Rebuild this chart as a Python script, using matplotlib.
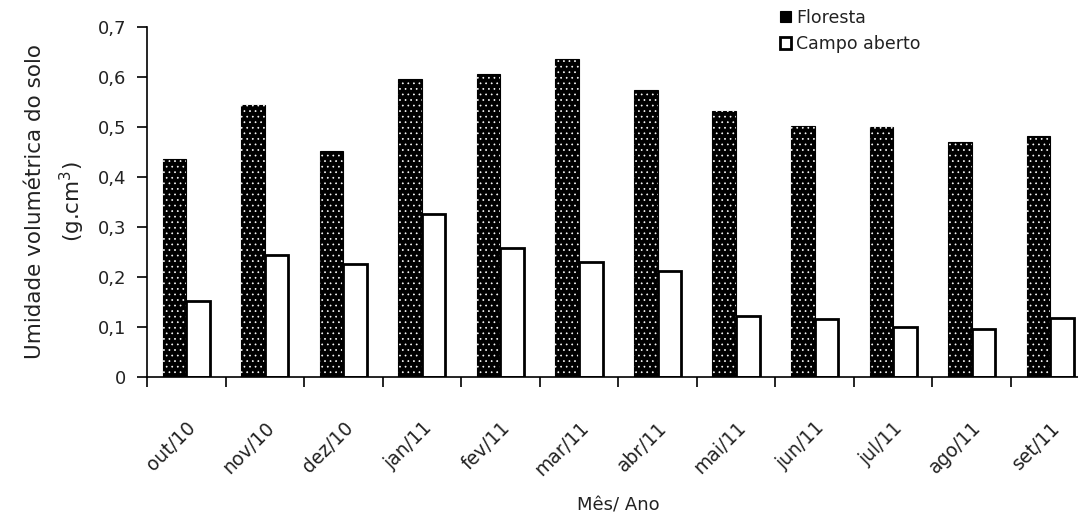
import matplotlib.pyplot as plt
import numpy as np
from matplotlib.ticker import FuncFormatter
from matplotlib.transforms import ScaledTranslation

# meses
meses = ['out/10', 'nov/10', 'dez/10', 'jan/11', 'fev/11', 'mar/11',
         'abr/11', 'mai/11', 'jun/11', 'jul/11', 'ago/11', 'set/11']

# umidade volumetrica (g.cm3)
floresta = [0.436, 0.543, 0.452, 0.595, 0.606, 0.635,
            0.573, 0.532, 0.502, 0.500, 0.470, 0.481]
campo = [0.152, 0.243, 0.225, 0.326, 0.258, 0.229,
         0.212, 0.122, 0.115, 0.100, 0.095, 0.118]

cor_txt = '#222222'
plt.rcParams['hatch.linewidth'] = 0.5

fig = plt.figure(figsize=(10.78, 5.18), dpi=100)
ax = fig.add_axes([147/1078, 1 - 376.5/518, 942.5/1078, 349.5/518])

x = np.arange(len(meses))
w = 0.3

# barras da floresta: preto com pontinhos brancos
ax.bar(x - w/2, floresta, w, color='black', edgecolor='black', linewidth=0.8,
       label='Floresta')
ax.bar(x - w/2, floresta, w, facecolor='none', edgecolor='white',
       hatch='...', linewidth=0)
ax.bar(x + w/2, campo, w, color='white', edgecolor='black', linewidth=2,
       label='Campo aberto')

ax.set_xlim(-0.5, len(meses) - 0.5)
ax.set_ylim(0, 0.7)
ax.set_yticks(np.arange(0, 0.71, 0.1))
ax.yaxis.set_major_formatter(FuncFormatter(
    lambda v, p: '0' if abs(v) < 1e-9 else ('%.1f' % v).replace('.', ',')))

# ticks nas divisas, rotulos no centro
ax.set_xticks(np.arange(len(meses) + 1) - 0.5)
ax.set_xticklabels([])
ax.set_xticks(x, minor=True)
ax.set_xticklabels(meses, minor=True, rotation=45, ha='right',
                   rotation_mode='anchor', fontsize=13.5, color=cor_txt)
desloc = ScaledTranslation(-12/100, 0, fig.dpi_scale_trans)
for lab in ax.get_xticklabels(minor=True):
    lab.set_transform(lab.get_transform() + desloc)
ax.tick_params(axis='x', which='minor', length=0, pad=30)
ax.tick_params(axis='x', which='major', length=7, width=1.2, direction='out')
ax.tick_params(axis='y', length=7, width=1.2, direction='out',
               labelsize=13, labelcolor=cor_txt, pad=8)

for s in ['top', 'right']:
    ax.spines[s].set_visible(False)
ax.spines['left'].set_linewidth(1.2)
ax.spines['bottom'].set_linewidth(1.2)

ax.set_ylabel('Umidade volumétrica do solo\n(g.cm$^3$)', fontsize=15.5,
              color=cor_txt, labelpad=8, linespacing=1.55)
ax.set_xlabel('Mês/ Ano', fontsize=13, color=cor_txt, labelpad=12)

fig.legend(loc='upper left', bbox_to_anchor=(764/1078, 1 + 7/518),
           frameon=False, fontsize=12.5, handlelength=0.65, handleheight=0.65,
           handletextpad=0.3, labelspacing=0.5, labelcolor=cor_txt)

fig.savefig('out.png', dpi=100)
